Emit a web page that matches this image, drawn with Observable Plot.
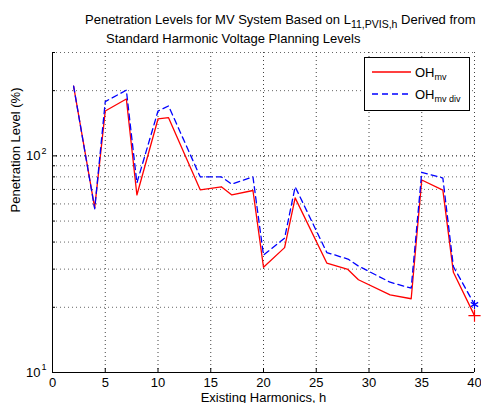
<!DOCTYPE html>
<html><head><meta charset="utf-8">
<script src="https://cdn.jsdelivr.net/npm/d3@7"></script>
<script src="https://cdn.jsdelivr.net/npm/@observablehq/plot@0.6"></script>
<style>
body{margin:0;background:#fff;}
#wrap{position:relative;width:481px;height:403px;overflow:hidden;font-family:"Liberation Sans",Arial,Helvetica,sans-serif;}
.title{position:absolute;font-size:13px;line-height:15px;white-space:nowrap;color:#000;}
.sub{font-size:10.5px;position:relative;top:4px;}
#wrap svg{position:absolute;left:0;top:0;}
</style></head><body><div id="wrap"></div>
<script>
const harmonics = [2,4,5,7,8,10,11,14,16,17,19,20,22,23,26,28,29,32,34,35,37,38,40];
const ohMv = [210,57.5,161,183,66,148,150,69.7,72,66,69.2,30.6,37.7,64,32,29.9,26.8,22.8,21.9,77.4,69.5,29,18.3];
const ohMvDiv = [210,57,178,201,75,161,170,80,80,74,80,34.8,41.7,72,35.8,33.4,31,26.1,24.5,84,79,30.8,20.6];
const xTicks = [0,5,10,15,20,25,30,35,40];
const yMajor = [10,100];
const yMinor = [20,30,40,50,60,70,80,90,200,300];
const seriesNames = ["OH", "OH"];
const seriesSubs = ["mv", "mv div"];

const data = harmonics.map((h,i)=>({h, mv: ohMv[i], div: ohMvDiv[i]}));
const last = data[data.length-1];

const plot = Plot.plot({
  width: 481, height: 403,
  marginTop: 52, marginLeft: 52, marginRight: 7, marginBottom: 31,
  style: {fontFamily: "Liberation Sans, Arial, sans-serif", fontSize: "13px", background: "white", color: "black", overflow: "hidden"},
  x: {domain: [0,40]},
  y: {type: "log", domain: [10,300]},
  marks: [
    Plot.gridX(xTicks.slice(1), {stroke: "#000", strokeOpacity: 0.75, strokeDasharray: "1,3"}),
    Plot.gridY(yMinor, {stroke:"#000", strokeOpacity:0.6, strokeDasharray:"1,3"}),
    Plot.gridY([100], {stroke:"#000", strokeOpacity:1, strokeDasharray:"1,3"}),
    Plot.ruleX([0], {stroke:"#000"}),
    Plot.ruleY([10], {stroke:"#000"}),
    Plot.axisX(xTicks, {tickSize: -4, tickPadding: 9, label: null, fontSize: 13}),
    Plot.axisY(yMajor, {tickSize: -5, tickFormat: () => "", label: null}),
    Plot.axisY(yMinor, {tickSize: -3, tickFormat: () => "", label: null}),
    Plot.text(yMajor, {x: 0, y: d=>d, text: () => "10", dx: -12, textAnchor: "end", fontSize: 13}),
    Plot.text(yMajor, {x: 0, y: d=>d, text: d => String(Math.round(Math.log10(d))), dx: -11, dy: -5, textAnchor: "start", fontSize: 9}),
    Plot.line(data, {x:"h", y:"mv", stroke:"#ff0000", strokeWidth: 1.3}),
    Plot.line(data, {x:"h", y:"div", stroke:"#0000ff", strokeWidth: 1.3, strokeDasharray:"6,4"}),
    Plot.dot([last], {x:"h", y:"mv", symbol:"plus", stroke:"#ff0000", r: 4, strokeWidth: 1.2}),
    Plot.dot([last], {x:"h", y:"div", symbol:"asterisk", stroke:"#0000ff", r: 4, strokeWidth: 1.2}),
    Plot.text(["Penetration Level (%)"], {frameAnchor:"left", rotate:-90, dx:-37, fontSize: 13}),
    Plot.text(["Existing Harmonics, h"], {frameAnchor:"bottom", dy: 29, fontSize: 13})
  ]
});
const wrap = document.getElementById("wrap");
wrap.appendChild(plot);

const t1 = document.createElement("div");
t1.className = "title";
t1.style.left = "85px"; t1.style.top = "12px";
t1.innerHTML = 'Penetration Levels for MV System Based on L<span class="sub">11,PVIS,h</span> Derived from';
wrap.appendChild(t1);
const t2 = document.createElement("div");
t2.className = "title";
t2.style.left = "106px"; t2.style.top = "31px";
t2.textContent = "Standard Harmonic Voltage Planning Levels";
wrap.appendChild(t2);

const ns = "http://www.w3.org/2000/svg";
const lg = document.createElementNS(ns, "svg");
lg.setAttribute("width", 106); lg.setAttribute("height", 55);
lg.style.left = "364px"; lg.style.top = "57px";
lg.innerHTML = `
 <rect x="0.5" y="0.5" width="105" height="53" fill="white" stroke="black"/>
 <line x1="8" x2="47" y1="15" y2="15" stroke="#ff0000" stroke-width="1.3"/>
 <text x="51" y="19.5" font-size="13" font-family="Liberation Sans, Arial, sans-serif">${seriesNames[0]}<tspan font-size="9" dy="3">${seriesSubs[0]}</tspan></text>
 <line x1="8" x2="47" y1="37" y2="37" stroke="#0000ff" stroke-width="1.3" stroke-dasharray="6,4"/>
 <text x="51" y="41.5" font-size="13" font-family="Liberation Sans, Arial, sans-serif">${seriesNames[1]}<tspan font-size="9" dy="3">${seriesSubs[1]}</tspan></text>`;
wrap.appendChild(lg);
</script></body></html>
